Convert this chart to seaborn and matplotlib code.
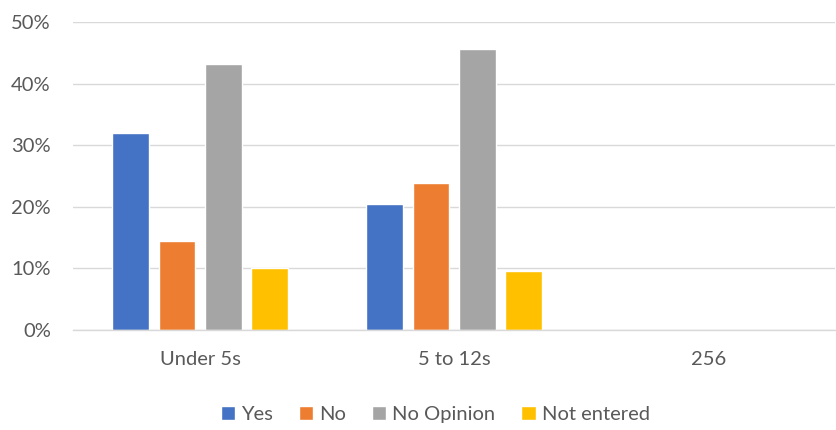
import numpy as np
import pandas as pd
import seaborn as sns
import matplotlib.pyplot as plt
from matplotlib.ticker import PercentFormatter

categories = ['Under 5s', '5 to 12s', '256']
series = ['Yes', 'No', 'No Opinion', 'Not entered']
yes = [31.9, 20.5, np.nan]
no = [14.4, 23.8, np.nan]
no_opinion = [43.2, 45.6, np.nan]
not_entered = [10.1, 9.6, np.nan]
colors = ['#4472C4', '#ED7D31', '#A5A5A5', '#FFC000']

rows = []
for name, vals in zip(series, [yes, no, no_opinion, not_entered]):
    for cat, v in zip(categories, vals):
        rows.append({'group': cat, 'answer': name, 'pct': v})
df = pd.DataFrame(rows)

sns.set_style('white')
plt.rcParams['font.family'] = ['Lato', 'DejaVu Sans']

fig = plt.figure(figsize=(8.36, 4.30), dpi=100)
ax = fig.add_axes([0.0873, 0.2326, 0.912, 0.7162])

sns.barplot(data=df, x='group', y='pct', hue='answer', order=categories,
            hue_order=series, palette=colors, width=0.73, gap=0.21,
            saturation=1, ax=ax, legend=True)

ax.set_ylim(0, 50)
ax.set_yticks(range(0, 51, 10))
ax.yaxis.set_major_formatter(PercentFormatter(decimals=0))
ax.grid(axis='y', color='#D9D9D9', linewidth=1)
ax.set_axisbelow(True)
for s in ['top', 'right', 'left']:
    ax.spines[s].set_visible(False)
ax.spines['bottom'].set_color('#D9D9D9')
ax.spines['bottom'].set_linewidth(1)
ax.tick_params(axis='both', length=0, labelsize=14.5, colors='#595959')
ax.tick_params(axis='y', pad=16)
ax.tick_params(axis='x', pad=15)
ax.set_xlabel('')
ax.set_ylabel('')

handles, labels = ax.get_legend_handles_labels()
ax.legend(handles, labels, loc='center', bbox_to_anchor=(0.475, -0.275),
          ncol=4, frameon=False, fontsize=14.5, labelcolor='#595959',
          handlelength=0.7, handleheight=0.7, handletextpad=0.3,
          columnspacing=1.3)

fig.savefig('out.png', dpi=100)
